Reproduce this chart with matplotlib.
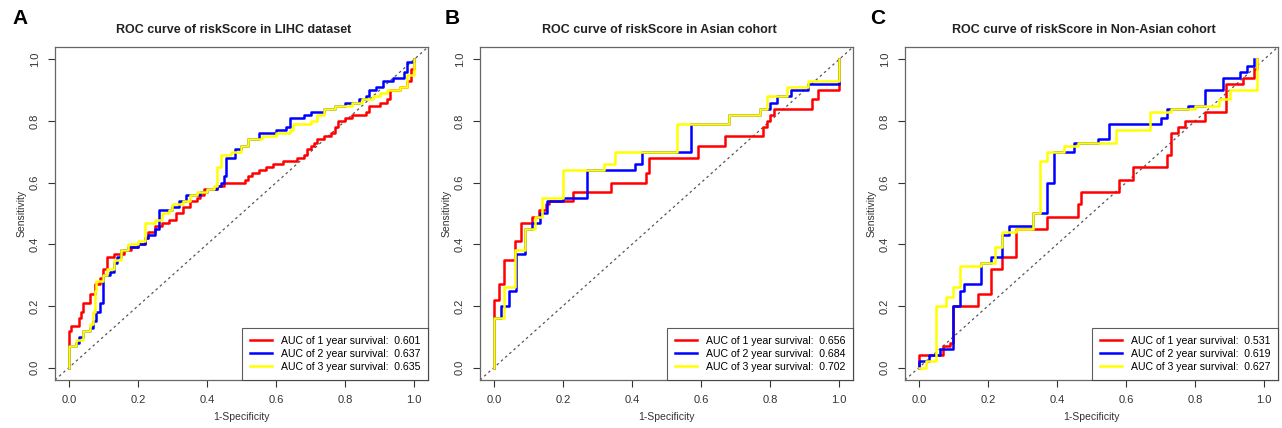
import numpy as np
import matplotlib
matplotlib.use("Agg")
import matplotlib.pyplot as plt

plt.rcParams['font.family'] = ['Liberation Sans', 'DejaVu Sans']

# ROC Punkte (1-Spezifität, Sensitivität), Stufen: erst horizontal, dann vertikal
# Panel A: LIHC
a_red_x = [0, 0, 0.005, 0.03, 0.035, 0.04, 0.06, 0.075, 0.09, 0.1, 0.11, 0.13, 0.16, 0.18, 0.2, 0.22, 0.23, 0.25, 0.27, 0.29, 0.31, 0.33, 0.35, 0.37, 0.38, 0.39, 0.43, 0.45, 0.51, 0.52, 0.53, 0.55, 0.57, 0.59, 0.62, 0.66, 0.68, 0.69, 0.7, 0.71, 0.72, 0.74, 0.76, 0.77, 0.78, 0.8, 0.82, 0.86, 0.87, 0.9, 0.92, 0.93, 0.96, 0.98, 0.99, 1.0]
a_red_y = [0, 0.12, 0.135, 0.16, 0.18, 0.21, 0.24, 0.27, 0.29, 0.32, 0.36, 0.37, 0.38, 0.39, 0.4, 0.42, 0.44, 0.46, 0.47, 0.48, 0.5, 0.52, 0.54, 0.55, 0.56, 0.58, 0.59, 0.6, 0.61, 0.62, 0.63, 0.64, 0.65, 0.66, 0.67, 0.68, 0.69, 0.71, 0.72, 0.73, 0.74, 0.75, 0.76, 0.78, 0.8, 0.81, 0.82, 0.83, 0.85, 0.86, 0.87, 0.9, 0.91, 0.93, 0.97, 1.0]
a_blue_x = [0, 0, 0.02, 0.03, 0.04, 0.06, 0.07, 0.08, 0.09, 0.1, 0.1, 0.12, 0.13, 0.14, 0.15, 0.17, 0.2, 0.22, 0.23, 0.25, 0.26, 0.3, 0.32, 0.34, 0.38, 0.4, 0.43, 0.44, 0.45, 0.455, 0.48, 0.5, 0.52, 0.55, 0.6, 0.63, 0.64, 0.68, 0.7, 0.74, 0.77, 0.8, 0.84, 0.86, 0.87, 0.89, 0.91, 0.94, 0.97, 0.98, 1.0]
a_blue_y = [0, 0.07, 0.08, 0.1, 0.12, 0.13, 0.15, 0.18, 0.21, 0.24, 0.3, 0.31, 0.34, 0.36, 0.38, 0.39, 0.4, 0.42, 0.43, 0.45, 0.51, 0.52, 0.54, 0.56, 0.57, 0.58, 0.59, 0.6, 0.62, 0.68, 0.71, 0.72, 0.74, 0.76, 0.77, 0.78, 0.81, 0.82, 0.83, 0.84, 0.85, 0.86, 0.87, 0.88, 0.9, 0.91, 0.93, 0.94, 0.96, 0.99, 1.0]
a_yel_x = [0, 0, 0.02, 0.04, 0.06, 0.07, 0.075, 0.08, 0.1, 0.11, 0.13, 0.15, 0.17, 0.2, 0.22, 0.25, 0.27, 0.29, 0.3, 0.33, 0.35, 0.37, 0.4, 0.42, 0.43, 0.44, 0.47, 0.5, 0.52, 0.56, 0.6, 0.64, 0.65, 0.7, 0.72, 0.74, 0.77, 0.82, 0.85, 0.88, 0.9, 0.92, 0.96, 0.98, 1.0]
a_yel_y = [0, 0.07, 0.09, 0.12, 0.14, 0.18, 0.25, 0.28, 0.3, 0.32, 0.35, 0.38, 0.4, 0.41, 0.47, 0.48, 0.5, 0.51, 0.53, 0.54, 0.56, 0.57, 0.58, 0.59, 0.65, 0.69, 0.7, 0.72, 0.74, 0.75, 0.76, 0.77, 0.79, 0.8, 0.82, 0.84, 0.85, 0.86, 0.87, 0.88, 0.89, 0.9, 0.91, 0.95, 1.0]

# Panel B: Asian
b_red_x = [0, 0, 0, 0.015, 0.03, 0.06, 0.08, 0.11, 0.13, 0.15, 0.16, 0.23, 0.34, 0.44, 0.45, 0.59, 0.67, 0.78, 0.79, 0.8, 0.81, 0.92, 0.94, 1.0, 1.0]
b_red_y = [0, 0.16, 0.22, 0.27, 0.35, 0.41, 0.47, 0.49, 0.51, 0.53, 0.54, 0.57, 0.6, 0.63, 0.68, 0.72, 0.75, 0.78, 0.8, 0.82, 0.84, 0.87, 0.9, 0.92, 1.0]
b_blue_x = [0, 0, 0.02, 0.045, 0.065, 0.09, 0.11, 0.135, 0.155, 0.2, 0.27, 0.41, 0.43, 0.57, 0.68, 0.77, 0.8, 0.82, 0.86, 0.91, 1.0]
b_blue_y = [0, 0.16, 0.2, 0.25, 0.37, 0.45, 0.47, 0.5, 0.54, 0.55, 0.64, 0.66, 0.7, 0.79, 0.82, 0.84, 0.86, 0.88, 0.9, 0.92, 1.0]
b_yel_x = [0, 0, 0.03, 0.06, 0.09, 0.12, 0.14, 0.2, 0.32, 0.35, 0.53, 0.68, 0.77, 0.79, 0.85, 0.91, 1.0]
b_yel_y = [0, 0.16, 0.26, 0.38, 0.45, 0.49, 0.55, 0.64, 0.66, 0.7, 0.79, 0.82, 0.84, 0.88, 0.91, 0.93, 1.0]

# Panel C: Non-Asian
c_red_x = [0, 0, 0.03, 0.07, 0.09, 0.1, 0.17, 0.21, 0.24, 0.28, 0.37, 0.46, 0.47, 0.58, 0.62, 0.72, 0.73, 0.75, 0.77, 0.83, 0.89, 0.94, 0.97, 0.98]
c_red_y = [0, 0.04, 0.04, 0.07, 0.08, 0.2, 0.24, 0.32, 0.36, 0.45, 0.49, 0.53, 0.57, 0.61, 0.65, 0.69, 0.76, 0.78, 0.8, 0.83, 0.92, 0.94, 0.97, 1.0]
c_blue_x = [0, 0, 0.03, 0.06, 0.1, 0.12, 0.13, 0.18, 0.21, 0.24, 0.26, 0.33, 0.37, 0.39, 0.45, 0.52, 0.55, 0.7, 0.72, 0.78, 0.83, 0.88, 0.93, 0.95, 0.97]
c_blue_y = [0, 0.02, 0.04, 0.06, 0.2, 0.25, 0.27, 0.34, 0.36, 0.43, 0.46, 0.5, 0.6, 0.7, 0.73, 0.74, 0.79, 0.81, 0.84, 0.85, 0.9, 0.94, 0.96, 0.98, 1.0]
c_yel_x = [0, 0.02, 0.05, 0.08, 0.1, 0.12, 0.18, 0.22, 0.24, 0.28, 0.33, 0.35, 0.37, 0.42, 0.46, 0.57, 0.67, 0.73, 0.8, 0.87, 0.9, 0.98]
c_yel_y = [0, 0.02, 0.2, 0.23, 0.26, 0.33, 0.34, 0.39, 0.44, 0.45, 0.5, 0.67, 0.7, 0.72, 0.73, 0.77, 0.83, 0.84, 0.85, 0.87, 0.9, 1.0]

letters = ["A", "B", "C"]
titles = ["ROC curve of riskScore in LIHC dataset",
          "ROC curve of riskScore in Asian cohort",
          "ROC curve of riskScore in Non-Asian cohort"]
aucs = [[0.601, 0.637, 0.635], [0.656, 0.684, 0.702], [0.531, 0.619, 0.627]]
curves = [
    [(a_red_x, a_red_y), (a_blue_x, a_blue_y), (a_yel_x, a_yel_y)],
    [(b_red_x, b_red_y), (b_blue_x, b_blue_y), (b_yel_x, b_yel_y)],
    [(c_red_x, c_red_y), (c_blue_x, c_blue_y), (c_yel_x, c_yel_y)],
]
farben = ["#ff0000", "#0000ff", "#ffff00"]
ticks = [0.0, 0.2, 0.4, 0.6, 0.8, 1.0]

fig = plt.figure(figsize=(12.82, 4.28), dpi=100)
lefts = [55, 480, 905]
letter_x = [20, 452, 878]
for i in range(3):
    ax = fig.add_axes([lefts[i] / 1282, 1 - 380 / 428, 373 / 1282, 333 / 428])
    ax.plot([-0.04, 1.04], [-0.04, 1.04], color="#555555", lw=0.9, ls=(0, (2, 2.5)))
    for j, (xs, ys) in enumerate(curves[i]):
        ax.plot(xs, ys, drawstyle="steps-post", color=farben[j], lw=1.8,
                label=f"AUC of {j+1} year survival:  {aucs[i][j]:.3f}")
    ax.set_xlim(-0.04, 1.04)
    ax.set_ylim(-0.04, 1.04)
    ax.set_xticks(ticks)
    ax.set_yticks(ticks)
    ax.set_xticklabels([f"{t:.1f}" for t in ticks])
    ax.set_yticklabels([f"{t:.1f}" for t in ticks], rotation=90, va="center")
    ax.tick_params(labelsize=8, colors="#333333", length=5, width=0.8, pad=6)
    for s in ax.spines.values():
        s.set_color("#666666")
        s.set_linewidth(0.9)
    ax.set_xlabel("1-Specificity", fontsize=7.5, color="#333333", labelpad=5)
    ax.set_ylabel("Sensitivity", fontsize=7.5, color="#333333", labelpad=2)
    ax.set_title(titles[i], fontsize=9, fontweight="bold", pad=10, color="#222222", x=0.48)
    leg = ax.legend(loc="lower right", fontsize=7.6, frameon=True, fancybox=False,
                    borderaxespad=0, handlelength=2.1, handletextpad=0.8,
                    labelspacing=0.3, borderpad=0.75)
    leg.get_frame().set_edgecolor("#333333")
    leg.get_frame().set_linewidth(0.8)
    fig.text(letter_x[i] / 1282, 1 - 19 / 428, letters[i], fontsize=15,
             fontweight="bold", va="center", ha="center")

fig.savefig("out.png", dpi=100)
